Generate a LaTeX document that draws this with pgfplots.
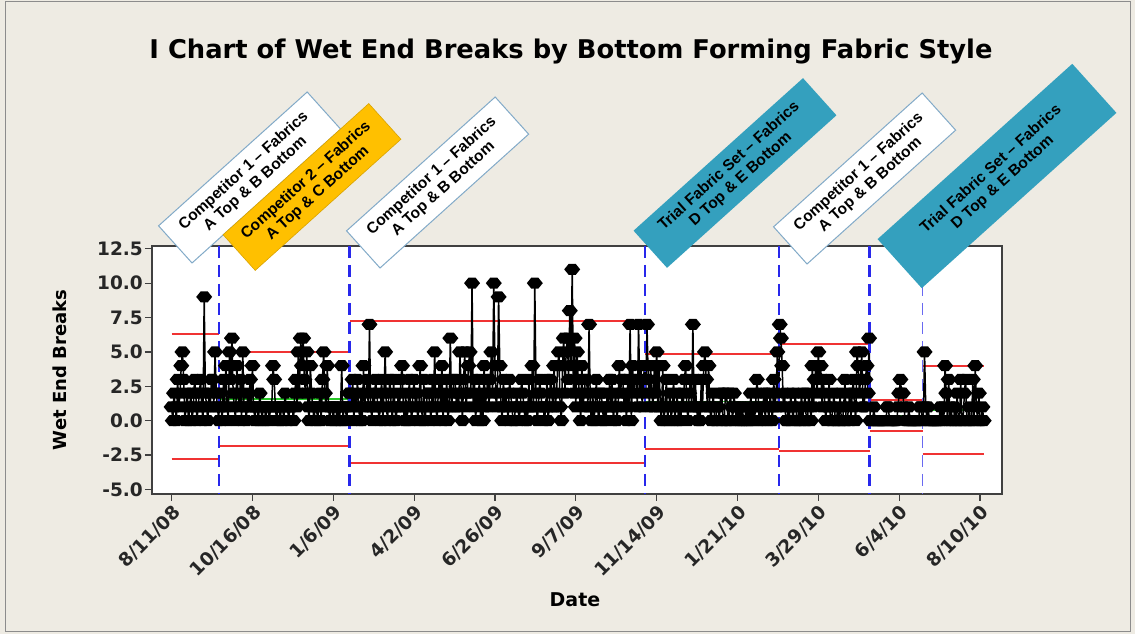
\documentclass[border=0pt]{standalone}
\usepackage{fontspec}
\usepackage{graphicx}
\usepackage{pgfplots}
\usepackage{pgfplotstable}
\pgfplotsset{compat=1.18}
\setmainfont{DejaVu Sans}
\newfontfamily\boxfont{Liberation Sans}
\definecolor{bgbeige}{RGB}{238,235,227}
\definecolor{tealbox}{RGB}{52,160,190}
\definecolor{goldbox}{RGB}{255,192,0}
\definecolor{boxedge}{RGB}{130,170,200}
\definecolor{dblue}{RGB}{40,40,235}
\definecolor{cred}{RGB}{240,50,50}
\definecolor{cgreen}{RGB}{40,200,40}

\pgfdeclareplotmark{mtb}{%
  \pgfpathmoveto{\pgfqpoint{-8pt}{0pt}}%
  \pgfpathlineto{\pgfqpoint{-3.5pt}{5.5pt}}%
  \pgfpathlineto{\pgfqpoint{3.5pt}{5.5pt}}%
  \pgfpathlineto{\pgfqpoint{8pt}{0pt}}%
  \pgfpathlineto{\pgfqpoint{3.5pt}{-5.5pt}}%
  \pgfpathlineto{\pgfqpoint{-3.5pt}{-5.5pt}}%
  \pgfpathclose
  \pgfusepathqfill}

% Wet end breaks, one value per observation (observation number = row + 1)
\pgfplotstableread[row sep=\\,header=false]{
1\\0\\2\\1\\0\\3\\1\\2\\4\\5\\
3\\0\\1\\2\\0\\1\\2\\0\\1\\3\\
2\\0\\1\\2\\3\\1\\0\\9\\2\\1\\
0\\2\\1\\3\\3\\1\\5\\2\\1\\0\\
2\\1\\0\\3\\1\\4\\1\\0\\5\\3\\
6\\2\\1\\0\\4\\2\\1\\3\\0\\5\\
1\\1\\0\\2\\1\\3\\1\\4\\1\\0\\
1\\1\\0\\2\\1\\0\\1\\1\\0\\1\\
1\\0\\1\\1\\4\\3\\1\\0\\1\\1\\
0\\1\\1\\0\\2\\1\\1\\0\\1\\1\\
1\\0\\2\\3\\1\\5\\2\\6\\4\\6\\
3\\2\\5\\1\\0\\4\\2\\1\\0\\1\\
1\\0\\1\\2\\0\\3\\5\\2\\1\\4\\
1\\0\\1\\1\\0\\1\\1\\0\\1\\0\\
1\\4\\0\\1\\1\\0\\1\\2\\
2\\1\\3\\0\\2\\1\\3\\1\\0\\2\\
0\\4\\1\\2\\3\\1\\7\\1\\0\\2\\
1\\3\\2\\1\\0\\1\\3\\0\\2\\5\\
1\\0\\2\\3\\1\\0\\3\\1\\0\\1\\
2\\1\\3\\4\\1\\0\\2\\0\\1\\3\\
1\\0\\2\\3\\1\\2\\0\\1\\4\\1\\
0\\3\\0\\1\\2\\2\\1\\0\\3\\1\\
5\\1\\0\\2\\3\\1\\4\\0\\2\\1\\
3\\0\\1\\6\\1\\2\\3\\3\\1\\2\\
1\\5\\2\\0\\3\\5\\1\\2\\4\\5\\
2\\10\\1\\3\\0\\2\\1\\3\\0\\2\\
0\\4\\1\\2\\3\\1\\3\\5\\2\\10\\
4\\1\\2\\9\\4\\1\\0\\3\\1\\2\\
1\\0\\3\\2\\1\\0\\0\\1\\2\\1\\
0\\1\\3\\2\\1\\0\\1\\0\\3\\1\\
1\\4\\1\\10\\2\\0\\1\\3\\2\\1\\
1\\0\\1\\3\\0\\1\\3\\2\\1\\4\\
1\\2\\4\\5\\1\\0\\4\\6\\2\\5\\
6\\3\\8\\4\\11\\2\\6\\1\\5\\3\\
2\\0\\4\\1\\2\\3\\3\\1\\7\\1\\
0\\2\\0\\1\\3\\1\\0\\2\\2\\1\\
0\\1\\0\\2\\1\\3\\1\\3\\0\\1\\
2\\0\\1\\4\\2\\3\\3\\1\\2\\0\\
3\\1\\7\\0\\4\\2\\3\\3\\1\\7\\
2\\4\\1\\3\\4\\
2\\7\\3\\1\\4\\2\\1\\4\\2\\5\\
1\\4\\1\\0\\4\\0\\1\\3\\0\\1\\
2\\0\\1\\3\\0\\1\\2\\0\\1\\0\\
2\\1\\3\\4\\1\\0\\2\\3\\1\\7\\
1\\3\\1\\0\\1\\0\\3\\1\\4\\5\\
3\\1\\4\\1\\0\\1\\2\\0\\0\\1\\
1\\0\\2\\2\\0\\0\\2\\2\\0\\0\\
2\\1\\0\\2\\1\\0\\1\\0\\1\\0\\
1\\0\\0\\1\\0\\1\\0\\2\\0\\1\\
0\\1\\3\\2\\0\\1\\0\\1\\2\\0\\
2\\1\\0\\2\\1\\0\\3\\1\\2\\5\\
1\\
7\\6\\4\\1\\2\\0\\0\\1\\0\\2\\
1\\0\\1\\2\\0\\0\\1\\0\\2\\0\\
1\\2\\0\\0\\2\\1\\0\\4\\1\\3\\
4\\2\\5\\3\\4\\1\\3\\2\\0\\1\\
1\\3\\0\\0\\1\\2\\0\\0\\1\\0\\
2\\0\\0\\1\\3\\0\\0\\1\\2\\0\\
2\\3\\1\\0\\5\\4\\2\\3\\5\\1\\
1\\3\\4\\2\\6\\
0\\0\\0\\1\\0\\0\\0\\0\\0\\0\\
0\\0\\0\\0\\1\\1\\0\\0\\0\\0\\
0\\0\\0\\1\\2\\3\\2\\2\\1\\0\\
0\\0\\1\\0\\0\\0\\0\\0\\0\\0\\
0\\1\\1\\0\\
0\\5\\1\\0\\1\\0\\0\\0\\0\\0\\
0\\0\\0\\0\\1\\0\\1\\0\\4\\2\\
0\\3\\0\\1\\0\\0\\1\\0\\2\\0\\
0\\3\\0\\0\\2\\3\\0\\0\\1\\0\\
0\\3\\0\\4\\1\\0\\2\\0\\0\\1\\0\\
}\wetdata

\begin{document}
\begin{tikzpicture}[x=1pt,y=1pt]
\path[use as bounding box] (0,0) rectangle (1135,634);
\fill[bgbeige] (0,0) rectangle (1135,634);
\draw[black!45, line width=1pt] (5.5,2.5) rectangle (1130.5,632);

\begin{axis}[
  at={(152pt,140pt)}, anchor=south west,
  scale only axis, width=850pt, height=248pt,
  xmin=-15.25, xmax=689.2,
  ymin=-5.33, ymax=12.7,
  axis background/.style={fill=white},
  axis line style={draw=black!75, line width=1.4pt},
  tick pos=left, tick align=outside,
  major tick length=7pt,
  tick style={draw=black!75, line width=1.2pt},
  xtick={1,68,135,202,269,336,403,470,537,604,671},
  xticklabels={8/11/08,10/16/08,1/6/09,4/2/09,6/26/09,9/7/09,11/14/09,1/21/10,3/29/10,6/4/10,8/10/10},
  ytick={-5,-2.5,0,2.5,5,7.5,10,12.5},
  /pgf/number format/.cd, fixed, fixed zerofill, precision=1, assume math mode=true,
  /pgfplots/.cd,
  ticklabel style={font=\fontsize{18.5}{20}\selectfont\bfseries, text=black!85},
  xticklabel style={rotate=45, anchor=north east, inner sep=2pt},
  yticklabel style={inner sep=2pt},
]
% center lines
\addplot[cgreen, line width=1.6pt] coordinates {(1,1.76) (40.5,1.76)};
\addplot[cgreen, line width=1.6pt] coordinates {(40.5,1.585) (148.5,1.585)};
\addplot[cgreen, line width=1.6pt] coordinates {(148.5,2.085) (393.5,2.085)};
\addplot[cgreen, line width=1.6pt] coordinates {(393.5,1.385) (504.5,1.385)};
\addplot[cgreen, line width=1.6pt] coordinates {(504.5,1.675) (579.5,1.675)};
\addplot[cgreen, line width=1.6pt] coordinates {(579.5,0.375) (623.5,0.375)};
\addplot[cgreen, line width=1.6pt] coordinates {(623.5,0.79) (674,0.79)};
% upper control limits
\addplot[cred, line width=1.8pt] coordinates {(1,6.3) (40.5,6.3)};
\addplot[cred, line width=1.8pt] coordinates {(40.5,5.01) (148.5,5.01)};
\addplot[cred, line width=1.8pt] coordinates {(148.5,7.27) (393.5,7.27)};
\addplot[cred, line width=1.8pt] coordinates {(393.5,4.85) (504.5,4.85)};
\addplot[cred, line width=1.8pt] coordinates {(504.5,5.55) (579.5,5.55)};
\addplot[cred, line width=1.8pt] coordinates {(579.5,1.5) (623.5,1.5)};
\addplot[cred, line width=1.8pt] coordinates {(623.5,4.0) (674,4.0)};
% lower control limits
\addplot[cred, line width=1.8pt] coordinates {(1,-2.78) (40.5,-2.78)};
\addplot[cred, line width=1.8pt] coordinates {(40.5,-1.84) (148.5,-1.84)};
\addplot[cred, line width=1.8pt] coordinates {(148.5,-3.1) (393.5,-3.1)};
\addplot[cred, line width=1.8pt] coordinates {(393.5,-2.08) (504.5,-2.08)};
\addplot[cred, line width=1.8pt] coordinates {(504.5,-2.2) (579.5,-2.2)};
\addplot[cred, line width=1.8pt] coordinates {(579.5,-0.75) (623.5,-0.75)};
\addplot[cred, line width=1.8pt] coordinates {(623.5,-2.42) (674,-2.42)};
% data
\addplot[black, line width=1.5pt, mark=mtb, mark options={solid}]
  table[x expr=\coordindex+1, y index=0]{\wetdata};
% stage boundaries
\addplot[dblue, line width=2.2pt, dash pattern=on 12pt off 7pt] coordinates {(40.5,12.7) (40.5,-5.33)};
\addplot[dblue, line width=2.2pt, dash pattern=on 12pt off 7pt] coordinates {(148.5,12.7) (148.5,-5.33)};
\addplot[dblue, line width=2.2pt, dash pattern=on 12pt off 7pt] coordinates {(393.5,12.7) (393.5,-5.33)};
\addplot[dblue, line width=2.2pt, dash pattern=on 12pt off 7pt] coordinates {(504.7,12.7) (504.7,-5.33)};
\addplot[dblue, line width=2.2pt, dash pattern=on 12pt off 7pt] coordinates {(579.4,12.7) (579.4,-5.33)};
\addplot[dblue!70, line width=1.6pt, dash pattern=on 12pt off 7pt] coordinates {(623.4,12.7) (623.4,-5.33)};
\end{axis}

% title and axis labels
\node at (571,582) {\resizebox{843pt}{!}{\fontsize{22}{26}\selectfont\bfseries I Chart of Wet End Breaks by Bottom Forming Fabric Style}};
\node[rotate=90] at (60,264) {\fontsize{18}{20}\selectfont\bfseries Wet End Breaks};
\node at (575,34) {\fontsize{19}{21}\selectfont\bfseries Date};

% callouts
\tikzset{callout/.style={rotate=42, align=center, inner sep=0pt,
  font=\boxfont\fontsize{15.5}{17.5}\selectfont\bfseries}}
\node[callout, fill=white, draw=boxedge, line width=1pt, minimum width=200pt, minimum height=50pt]
  at (249.6,456.5) {Competitor 1 – Fabrics\\A Top \& B Bottom};
\node[callout, fill=goldbox, draw=goldbox!85!black, line width=0.6pt, minimum width=196pt, minimum height=48pt]
  at (312,447) {Competitor 2 – Fabrics\\A Top \& C Bottom};
\node[callout, fill=white, draw=boxedge, line width=1pt, minimum width=200pt, minimum height=50pt]
  at (437.6,451.5) {Competitor 1 – Fabrics\\A Top \& B Bottom};
\node[callout, fill=tealbox, minimum width=228pt, minimum height=50pt]
  at (735,461) {Trial Fabric Set – Fabrics\\D Top \& E Bottom};
\node[callout, fill=white, draw=boxedge, line width=1pt, minimum width=200pt, minimum height=50pt]
  at (864.6,455.5) {Competitor 1 – Fabrics\\A Top \& B Bottom};
\node[callout, fill=tealbox, minimum width=262pt, minimum height=66pt]
  at (997,458) {Trial Fabric Set – Fabrics\\D Top \& E Bottom};
\end{tikzpicture}
\end{document}
